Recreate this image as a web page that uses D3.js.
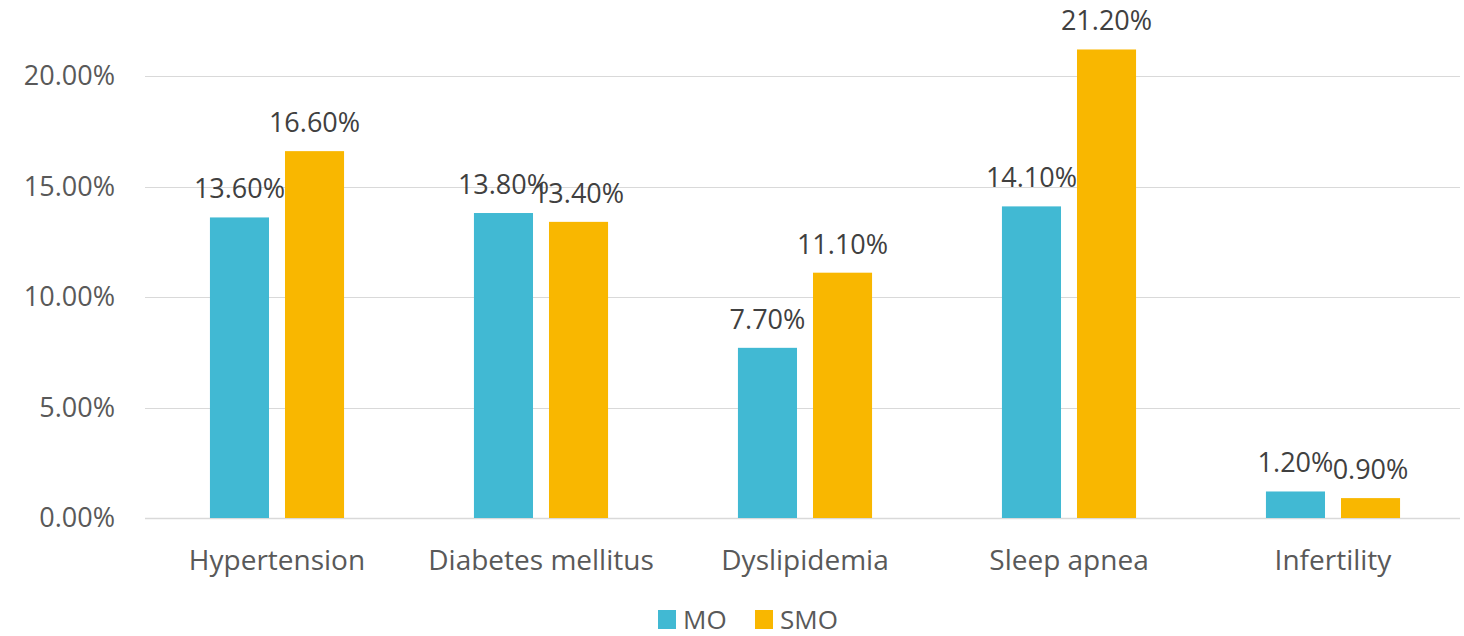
<!DOCTYPE html>
<html>
<head>
<meta charset="utf-8">
<script src="https://cdn.jsdelivr.net/npm/d3@7"></script>
<style>
  html, body { margin: 0; padding: 0; background: #fff; }
  svg text { font-family: "Open Sans", Lato, sans-serif; }
</style>
</head>
<body>
<svg id="chart" width="1464" height="636"></svg>
<script>
// Data
const categories = ['Hypertension', 'Diabetes mellitus', 'Dyslipidemia', 'Sleep apnea', 'Infertility'];
const seriesNames = ['MO', 'SMO'];
const moValues = [13.6, 13.8, 7.7, 14.1, 1.2];
const smoValues = [16.6, 13.4, 11.1, 21.2, 0.9];
const yTicks = [0, 5, 10, 15, 20];
const colors = { MO: '#41B9D3', SMO: '#F9B700' };

const width = 1464;
const margin = { left: 145, right: 0 };

const svg = d3.select('#chart');

const x = d3.scaleBand()
  .domain(categories)
  .range([margin.left, width - margin.right + 1])
  .paddingInner(0.492)
  .paddingOuter(0.246);

const xInner = d3.scaleBand()
  .domain(seriesNames)
  .range([0, x.bandwidth()])
  .paddingInner(0.213);

const y = d3.scaleLinear()
  .domain([0, 20])
  .range([518, 76]);

// gridlines
svg.append('g')
  .selectAll('line')
  .data(yTicks)
  .join('line')
  .attr('x1', margin.left)
  .attr('x2', 1460)
  .attr('y1', d => Math.round(y(d)) + 0.5)
  .attr('y2', d => Math.round(y(d)) + 0.5)
  .attr('stroke', '#d9d9d9')
  .attr('stroke-width', d => d === 0 ? 1.5 : 1);

// y axis labels
svg.append('g')
  .selectAll('text')
  .data(yTicks)
  .join('text')
  .attr('x', 115)
  .attr('y', d => y(d) + 9)
  .attr('text-anchor', 'end')
  .attr('font-size', 27)
  .attr('fill', '#595959')
  .text(d => d.toFixed(2) + '%');

// bars
const rows = categories.map((c, i) => ({ cat: c, MO: moValues[i], SMO: smoValues[i] }));

const groups = svg.append('g')
  .selectAll('g')
  .data(rows)
  .join('g')
  .attr('transform', d => `translate(${x(d.cat)},0)`);

groups.selectAll('rect')
  .data(d => seriesNames.map(s => ({ s, v: d[s] })))
  .join('rect')
  .attr('x', d => xInner(d.s))
  .attr('width', xInner.bandwidth())
  .attr('y', d => y(d.v))
  .attr('height', d => y(0) - y(d.v))
  .attr('fill', d => colors[d.s]);

groups.selectAll('text.value')
  .data(d => seriesNames.map(s => ({ s, v: d[s] })))
  .join('text')
  .attr('class', 'value')
  .attr('x', d => xInner(d.s) + xInner.bandwidth() / 2)
  .attr('y', d => y(d.v) - 19)
  .attr('text-anchor', 'middle')
  .attr('font-size', 27)
  .attr('fill', '#404040')
  .text(d => d.v.toFixed(2) + '%');

// x axis category labels
svg.append('g')
  .selectAll('text')
  .data(categories)
  .join('text')
  .attr('x', d => x(d) + x.bandwidth() / 2)
  .attr('y', 570)
  .attr('text-anchor', 'middle')
  .attr('font-size', 28)
  .attr('fill', '#595959')
  .text(d => d);

// legend
const legendItems = [
  { name: 'MO', x: 658 },
  { name: 'SMO', x: 755 }
];
const legend = svg.append('g')
  .selectAll('g')
  .data(legendItems)
  .join('g')
  .attr('transform', d => `translate(${d.x},610)`);
legend.append('rect')
  .attr('width', 18)
  .attr('height', 19)
  .attr('fill', d => colors[d.name]);
legend.append('text')
  .attr('x', 25)
  .attr('y', 19)
  .attr('font-size', 26)
  .attr('fill', '#595959')
  .text(d => d.name);
</script>
</body>
</html>
